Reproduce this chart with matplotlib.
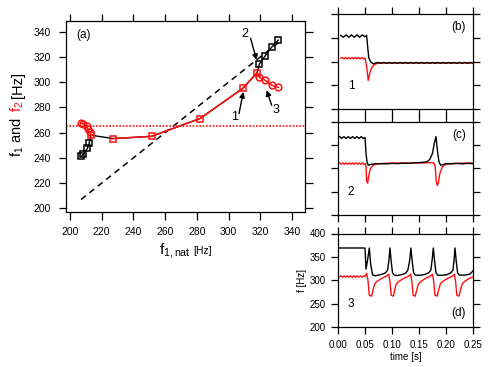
import matplotlib
matplotlib.use('Agg')
import matplotlib.pyplot as plt

plt.rcParams['font.family'] = ['Liberation Sans', 'DejaVu Sans']
plt.rcParams['mathtext.fontset'] = 'custom'
plt.rcParams['mathtext.rm'] = 'Liberation Sans'
plt.rcParams['mathtext.it'] = 'Liberation Sans'
plt.rcParams['mathtext.default'] = 'regular'

# ---------------- Panel (a) data ----------------
f1nat_left = [207.2, 208.4, 211.0, 212.2]
f1_left = [241.5, 243.0, 247.5, 252.0]
f2nat_left = [206.9, 208.4, 210.5, 211.6, 212.6]
f2_left = [268.0, 266.8, 265.0, 262.5, 260.5]
f1nat_lock = [213.2, 227.3, 251.5, 282.0, 309.0, 318.0]
f_lock = [258.0, 255.3, 257.1, 271.2, 295.1, 307.5]
f1nat_right = [319.4, 323.0, 327.2, 331.4]
f1_right = [314.3, 320.7, 327.8, 333.4]
f2_right = [303.8, 301.6, 297.6, 295.8]
f2_ref = 265.0
diag = [207.0, 333.0]

# ---------------- Panel (b) data ----------------
t_b_k = [0.005, 0.010, 0.015, 0.020, 0.025, 0.030, 0.035, 0.040, 0.045, 0.050,
         0.053, 0.055, 0.057, 0.060, 0.065, 0.070,
         0.075, 0.080, 0.085, 0.090, 0.095, 0.100, 0.105, 0.110, 0.115, 0.120,
         0.125, 0.130, 0.135, 0.140, 0.145, 0.150, 0.155, 0.160, 0.165, 0.170,
         0.175, 0.180, 0.185, 0.190, 0.195, 0.200, 0.205, 0.210, 0.215, 0.220,
         0.225, 0.230, 0.235, 0.240, 0.245, 0.250]
f_b_k = [355, 351, 356, 351, 356, 351, 356, 351, 356, 352,
         355, 330, 308, 300, 295, 297,
         298, 296, 298, 296, 298, 296, 298, 296, 298, 296,
         298, 296, 298, 296, 298, 296, 298, 296, 298, 296,
         298, 296, 298, 296, 298, 296, 298, 296, 298, 296,
         298, 296, 298, 296, 298, 296]
t_b_r = [0.005, 0.008, 0.011, 0.014, 0.017, 0.020, 0.023, 0.026, 0.029, 0.032,
         0.035, 0.038, 0.041, 0.044, 0.047, 0.050, 0.053, 0.056, 0.059, 0.062,
         0.066, 0.070, 0.075, 0.080, 0.250]
f_b_r = [307, 308.5, 305.5, 308.5, 305.5, 308.5, 305.5, 308.5, 305.5, 308.5,
         305.5, 308.5, 305.5, 308.5, 305.5, 307, 290, 260, 276, 286,
         292, 295, 296.5, 297, 297]

# ---------------- Panel (c) data ----------------
t_c_k = [0.003, 0.007, 0.011, 0.015, 0.019, 0.023, 0.027, 0.031, 0.035, 0.039,
         0.043, 0.047, 0.050, 0.052, 0.054, 0.056, 0.060, 0.065, 0.070,
         0.080, 0.090, 0.100, 0.110, 0.120, 0.130, 0.140, 0.150, 0.160, 0.165,
         0.170, 0.175, 0.178, 0.1815, 0.184, 0.187, 0.190, 0.195, 0.200,
         0.210, 0.220, 0.230, 0.240, 0.250]
f_c_k = [368, 364, 368, 364, 368, 364, 368, 364, 368, 364,
         368, 364, 366, 330, 312, 306.5, 308, 309, 309.5,
         310, 309.5, 310.5, 310, 311, 310.5, 311.5, 312, 313, 314,
         319, 332, 352, 368, 339, 314, 306.5, 308, 310,
         309.5, 310.5, 309.5, 310.5, 310]
t_c_r = [0.003, 0.006, 0.009, 0.012, 0.015, 0.018, 0.021, 0.024, 0.027, 0.030,
         0.033, 0.036, 0.039, 0.042, 0.045, 0.048, 0.0505, 0.052, 0.053, 0.055,
         0.057, 0.060, 0.065, 0.070, 0.080, 0.100, 0.120, 0.140, 0.160, 0.175,
         0.178, 0.180, 0.182, 0.184, 0.186, 0.1885, 0.193, 0.200, 0.210, 0.230,
         0.250]
f_c_r = [311.5, 308.5, 311.5, 308.5, 311.5, 308.5, 311.5, 308.5, 311.5, 308.5,
         311.5, 308.5, 311.5, 308.5, 311.5, 308.5, 310, 303, 272, 268,
         284, 299, 306.5, 309, 310, 311, 311, 311.5, 311.5, 312,
         311, 303, 272, 263, 270, 288, 303, 308.7, 310, 311,
         311]

# ---------------- Panel (d) data ----------------
t_d_k = [0.0025, 0.050, 0.0519, 0.055, 0.058, 0.0605, 0.064, 0.0685, 0.075,
         0.082, 0.088, 0.092, 0.0945, 0.0963, 0.0985, 0.101, 0.104, 0.109,
         0.118, 0.125, 0.1295, 0.133, 0.135, 0.1375, 0.140, 0.143, 0.149,
         0.160, 0.168, 0.172, 0.1745, 0.1765, 0.179, 0.1815, 0.1845, 0.192,
         0.202, 0.209, 0.213, 0.215, 0.2167, 0.219, 0.2215, 0.225, 0.235,
         0.244, 0.250]
f_d_k = [369, 369, 323.8, 345, 369, 335, 311.5, 309.5, 311,
         313, 316, 322, 345, 369, 340, 316, 311, 310,
         312, 315, 322, 345, 369, 340, 316, 311, 310.5,
         312, 316, 322, 345, 369, 340, 316, 311, 310.5,
         312, 316, 322, 345, 369, 340, 316, 311, 311,
         313, 320]
t_d_r = [0.0025, 0.0055, 0.0085, 0.0115, 0.0145, 0.0175, 0.0205, 0.0235, 0.0265,
         0.0295, 0.0325, 0.0355, 0.0385, 0.0415, 0.0445, 0.0475,
         0.050, 0.053, 0.0555, 0.058, 0.0623, 0.065, 0.068, 0.0716, 0.081, 0.090,
         0.094, 0.0965, 0.0985, 0.1025, 0.105, 0.108, 0.112, 0.122, 0.131,
         0.1345, 0.137, 0.139, 0.143, 0.146, 0.149, 0.153, 0.162, 0.171,
         0.175, 0.1775, 0.1795, 0.1835, 0.1865, 0.1895, 0.1935, 0.203, 0.212,
         0.2155, 0.218, 0.220, 0.224, 0.227, 0.230, 0.234, 0.243, 0.250]
f_d_r = [307.5, 309.5, 306.5, 309.5, 306.5, 309.5, 306.5, 309.5, 306.5,
         309.5, 306.5, 309.5, 306.5, 309.5, 306.5, 309.5,
         308, 315, 300, 268, 266, 280, 292, 297, 304, 309,
         313, 295, 268, 266, 280, 292, 297, 304, 309,
         313, 295, 268, 266, 280, 292, 297, 304, 309,
         313, 295, 268, 266, 280, 292, 297, 304, 309,
         313, 295, 268, 266, 280, 292, 297, 304, 307]

RED = '#ff1010'
W, H = 498, 367
fig = plt.figure(figsize=(W / 100, H / 100), dpi=100)


def frac(left, top, right, bottom):
    return [left / W, 1 - bottom / H, (right - left) / W, (bottom - top) / H]


MS = 4.8
# ---------------- Panel (a) ----------------
ax = fig.add_axes(frac(66, 20.5, 305, 211.5))
ax.plot(diag, diag, color='black', lw=1.1, ls=(0, (4, 3)))
ax.axhline(f2_ref, color=RED, lw=1.2, ls=(0, (1, 1)))
ax.plot(f1nat_left + f1nat_lock + f1nat_right, f1_left + f_lock + f1_right,
        color='black', lw=1.0)
ax.plot(f1nat_left, f1_left, ls='none', marker='s', ms=MS, mfc='none',
        mec='black', mew=1.1)
ax.plot(f1nat_right, f1_right, ls='none', marker='s', ms=MS, mfc='none',
        mec='black', mew=1.1)
ax.plot(f2nat_left + f1nat_lock[:1], f2_left + f_lock[:1], color=RED, lw=1.1,
        marker='o', ms=MS, mfc='none', mec=RED, mew=1.1,
        markevery=list(range(len(f2_left))))
ax.plot(f1nat_lock[1:] + f1nat_right, f_lock[1:] + f2_right, color=RED, lw=1.1)
ax.plot(f1nat_right, f2_right, ls='none', marker='o', ms=MS, mfc='none',
        mec=RED, mew=1.1)
ax.plot(f1nat_lock, f_lock, ls='none', marker='s', ms=MS, mfc='none',
        mec=RED, mew=1.1)
ax.set_xlim(197.5, 348.2)
ax.set_ylim(197.5, 348.9)
ax.set_xticks(range(200, 341, 20))
ax.set_yticks(range(200, 341, 20))
ax.tick_params(direction='out', length=5.4, width=0.9, labelsize=7.5, pad=5.5,
               top=True, right=True, labeltop=False, labelright=False)
for s in ax.spines.values():
    s.set_linewidth(0.9)
ax.text(208.5, 337.8, '(a)', fontsize=8.5, ha='center', va='center')
arrowprops = dict(arrowstyle='-|>', color='black', lw=1.0, mutation_scale=8,
                  shrinkA=0, shrinkB=0)
ax.annotate('', xy=(317.7, 317.5), xytext=(313.9, 334.8), arrowprops=arrowprops)
ax.text(310.0, 338.0, '2', fontsize=9, ha='center', va='center')
ax.annotate('', xy=(309.3, 292.3), xytext=(306.6, 275.2), arrowprops=arrowprops)
ax.text(303.8, 272.6, '1', fontsize=9, ha='center', va='center')
ax.annotate('', xy=(324.0, 293.6), xytext=(327.2, 281.7), arrowprops=arrowprops)
ax.text(329.9, 277.9, '3', fontsize=9, ha='center', va='center')

# x label of (a)
fig.text(159 / W, 1 - 254 / H, r'$f_{1,nat}$', fontsize=11, ha='left', va='baseline')
fig.text(193 / W, 1 - 254 / H, '[Hz]', fontsize=7.5, ha='left', va='baseline')

# y label of (a): multi-coloured pieces stacked upward
fig.canvas.draw()
renderer = fig.canvas.get_renderer()
pieces = [(r'$f_1$ and', 'black'), (r'$f_2$', RED), ('[Hz]', 'black')]
ybase = 157.0  # pixel from top where text begins
xbase = 21.7 / W
gaps = [5.0, 3.0]
for i, (txt, col) in enumerate(pieces):
    t = fig.text(xbase, 1 - ybase / H, txt, fontsize=10.5, color=col,
                 rotation=90, rotation_mode='anchor', ha='left', va='baseline')
    bb = t.get_window_extent(renderer)
    top_px = H - bb.y1
    if i < len(gaps):
        ybase = top_px - gaps[i]

# ---------------- Right panels ----------------
boxes = [(338, 14, 473, 109), (338, 121.7, 473, 214.8), (338, 233.5, 473, 327)]
series = [((t_b_k, f_b_k), (t_b_r, f_b_r)),
          ((t_c_k, f_c_k), (t_c_r, f_c_r)),
          ((t_d_k, f_d_k), (t_d_r, f_d_r))]
labels = ['(b)', '(c)', '(d)']
nums = ['1', '2', '3']
for i, (box, ser) in enumerate(zip(boxes, series)):
    a = fig.add_axes(frac(*box))
    (tk, fk), (tr, fr) = ser
    a.plot(tr, fr, color=RED, lw=1.0)
    a.plot(tk, fk, color='black', lw=1.0)
    a.set_xlim(0, 0.25)
    a.set_ylim(200, 400)
    a.set_xticks([0, 0.05, 0.10, 0.15, 0.20, 0.25])
    a.set_yticks([200, 250, 300, 350, 400])
    last = (i == 2)
    a.tick_params(direction='out', length=5, width=0.9, labelsize=7,
                  top=True, right=True, labeltop=False, labelright=False,
                  labelbottom=last, labelleft=last, pad=4)
    for s in a.spines.values():
        s.set_linewidth(0.9)
    if i < 2:
        a.text(0.224, 372, labels[i], fontsize=8.5, ha='center', va='center')
    else:
        a.text(0.224, 229.5, labels[i], fontsize=8.5, ha='center', va='center')
    a.text(0.024, 249, nums[i], fontsize=8.5, ha='center', va='center')
    if last:
        a.set_xticklabels(['0.00', '0.05', '0.10', '0.15', '0.20', '0.25'])
        a.set_xlabel('time [s]', fontsize=7, labelpad=2)
        a.set_ylabel('f [Hz]', fontsize=7, labelpad=2)

fig.savefig('out.png', dpi=100)
